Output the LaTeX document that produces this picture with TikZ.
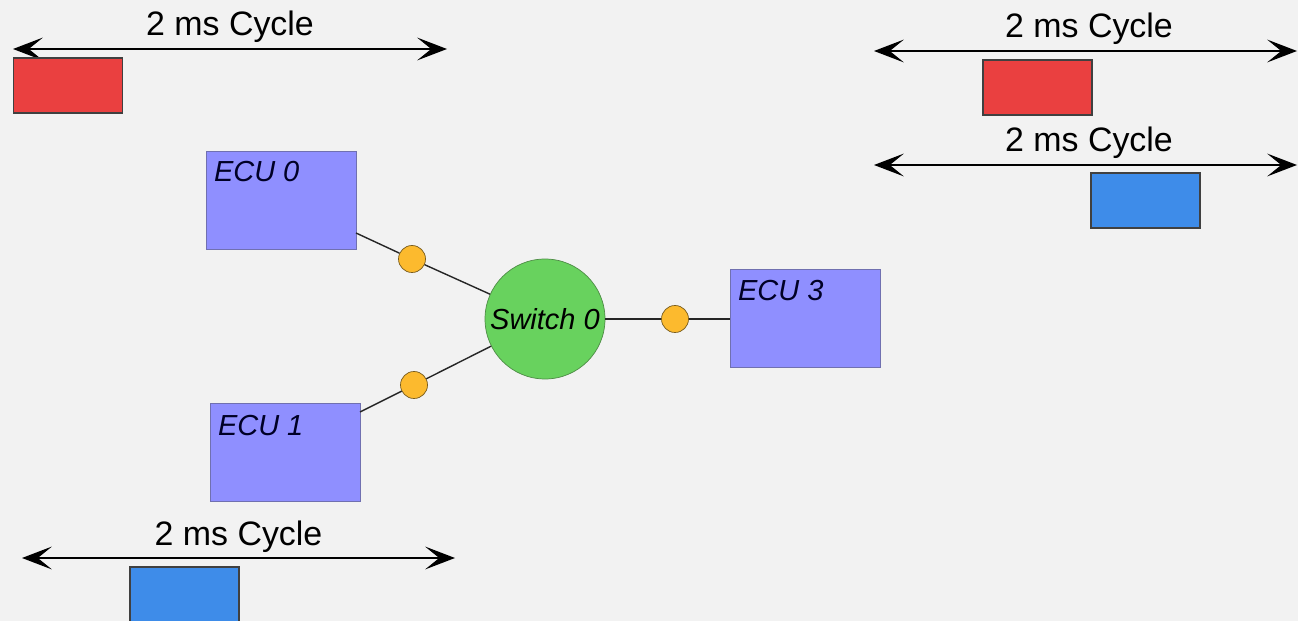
\documentclass[tikz,border=0pt]{standalone}
\usepackage{fontspec}
\setmainfont{Liberation Sans}
\usepackage{tikz}
\usetikzlibrary{arrows.meta,positioning,calc}
\definecolor{canvas}{RGB}{242,242,242}
\definecolor{ecufill}{RGB}{143,143,255}
\definecolor{eculine}{RGB}{112,112,176}
\definecolor{swfill}{RGB}{104,210,94}
\definecolor{swline}{RGB}{78,140,70}
\definecolor{portfill}{RGB}{252,186,46}
\definecolor{portline}{RGB}{120,92,30}
\definecolor{slotred}{RGB}{234,64,64}
\definecolor{slotblue}{RGB}{62,140,233}
\tikzset{
  ecu/.style={
    shape=rectangle,
    draw=eculine,
    fill=ecufill,
    minimum width=3cm,
    minimum height=1.96cm
  },
  ecu name/.style={
    anchor=base west,
    inner sep=0pt,
    text=black!85!blue,
    font=\fontsize{16.5}{19}\selectfont\itshape
  },
  switch/.style={
    shape=circle,
    draw=swline,
    fill=swfill,
    minimum size=2.4cm,
    inner sep=0pt,
    font=\fontsize{16.5}{19}\selectfont\itshape
  },
  port/.style={
    shape=circle,
    draw=portline,
    fill=portfill,
    minimum size=0.54cm,
    inner sep=0pt
  },
  link/.style={
    draw=black!85,
    line width=0.8pt
  },
  slot/.style={
    shape=rectangle,
    draw=black!75,
    line width=0.9pt,
    minimum width=2.18cm,
    minimum height=1.1cm,
    fill=#1
  },
  cycle/.style={
    line width=1.2pt,
    {Stealth[length=17pt,width=13pt,inset=8pt]}-{Stealth[length=17pt,width=13pt,inset=8pt]}
  },
  cycle label/.style={
    anchor=base,
    yshift=0.26cm,
    inner sep=0pt,
    font=\fontsize{19.3}{23}\selectfont
  }
}
\begin{document}
\begin{tikzpicture}[x=0.02cm,y=-0.02cm]

\fill[canvas] (0,0) rectangle (1298,621);
\useasboundingbox (0,0) rectangle (1298,621);

% network
\node [ecu] (e0) at (281,200) {};
\node [ecu name] (e0name) at ($(e0.north west)+(8,31)$) {ECU 0};
\node [ecu] (e1) at (285,452.5) {};
\node [ecu name] (e1name) at ($(e1.north west)+(8,32)$) {ECU 1};
\node [ecu] (e3) at (805,318.5) {};
\node [ecu name] (e3name) at ($(e3.north west)+(8,31)$) {ECU 3};

\node [switch] (sw) at (545,319) {Switch 0};

\coordinate (p0) at (356,233);
\coordinate (p1) at (360,412);

\node [port] (d0) at (412,259) {};
\node [port] (d1) at (414,385) {};
\node [port] (d3) at (675,319) {};

\draw [link] (p0) -- (d0) -- (sw);
\draw [link] (p1) -- (d1) -- (sw);
\draw [link,line width=1.2pt] (sw) -- (d3) -- (d3 -| e3.west);

% cycles
\coordinate (c0a) at (13,49);
\coordinate (c0b) at (447,49);
\draw [cycle] (c0a) -- node [cycle label] (c0t) {2 ms Cycle} (c0b);
\node [slot=slotred] (s0) at (68,85.5) {};

\coordinate (c1a) at (874,51);
\coordinate (c1b) at (1297,51);
\draw [cycle] (c1a) -- node [cycle label,xshift=2] (c1t) {2 ms Cycle} (c1b);
\node [slot=slotred] (s1) at (1037.5,87.5) {};

\coordinate (c2a) at (874,165);
\coordinate (c2b) at (1297,165);
\draw [cycle] (c2a) -- node [cycle label,xshift=2] (c2t) {2 ms Cycle} (c2b);
\node [slot=slotblue] (s2) at (1145.5,200.5) {};

\coordinate (c3a) at (22,558);
\coordinate (c3b) at (455,558);
\draw [cycle] (c3a) -- node [cycle label] (c3t) {2 ms Cycle} (c3b);
\node [slot=slotblue] (s3) at (184.5,594.5) {};

\end{tikzpicture}
\end{document}
